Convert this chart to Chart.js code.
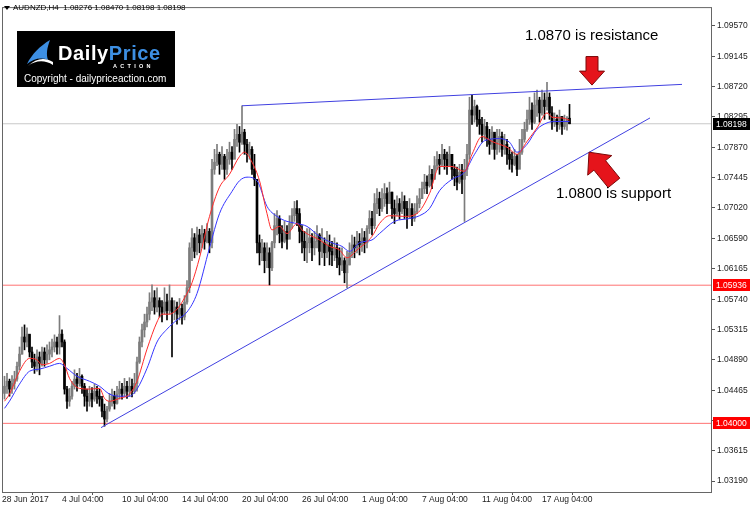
<!DOCTYPE html>
<html>
<head>
<meta charset="utf-8">
<script src="https://cdn.jsdelivr.net/npm/chart.js@4.4.1/dist/chart.umd.min.js"></script>
<style>
  html, body { margin: 0; padding: 0; background: #fff; }
  #wrap { position: relative; width: 750px; height: 508px; overflow: hidden; font-family: "Liberation Sans", Arial, sans-serif; }
  #c { position: absolute; left: 0; top: 0; }
  .tri { position: absolute; left: 4px; top: 6px; width: 0; height: 0; border-left: 3px solid transparent; border-right: 3px solid transparent; border-top: 4px solid #000; }
  .symbol { position: absolute; left: 13px; top: 3px; font-size: 8px; line-height: 10px; color: #000; white-space: pre; }
  .logo { position: absolute; left: 17px; top: 31px; width: 158px; height: 56px; background: #000; }
  .logo svg { position: absolute; left: 8px; top: 8px; }
  .brand { position: absolute; left: 41px; top: 11px; font-size: 20px; line-height: 22px; font-weight: bold; color: #fff; letter-spacing: 0.6px; white-space: nowrap; }
  .brand span { color: #3d8fe3; }
  .action { position: absolute; left: 96px; top: 32px; font-size: 5.5px; line-height: 6px; font-weight: bold; color: #fff; letter-spacing: 3.3px; }
  .copy { position: absolute; left: 7px; top: 42px; font-size: 10px; line-height: 12px; color: #fff; white-space: nowrap; }
  .note { position: absolute; font-size: 15px; line-height: 16px; color: #000; white-space: nowrap; }
</style>
</head>
<body>
<div id="wrap">
  <canvas id="c" width="750" height="508"></canvas>
  <div class="tri"></div>
  <div class="symbol">AUDNZD,H4  1.08276 1.08470 1.08198 1.08198</div>
  <div class="logo">
    <svg width="30" height="28" viewBox="0 0 30 28">
      <path d="M2,25 C7,15 15,7 25,1 C22,9 21,15 23,21 C16,18 8,20 2,25 Z" fill="#3d8fe3"/>
      <path d="M3,27 C11,21 20,21 28,26 L28,23 C20,18 11,19 3,27 Z" fill="#fff"/>
    </svg>
    <div class="brand">Daily<span>Price</span></div>
    <div class="action">ACTION</div>
    <div class="copy">Copyright - dailypriceaction.com</div>
  </div>
  <div class="note" style="left:525px; top:27px;">1.0870 is resistance</div>
  <div class="note" style="left:556px; top:185px;">1.0800 is support</div>
</div>
<script>
// H4 candles, bar 0 = 28 Jun 2017; open of each bar is the previous close
const firstOpen = 1.0442;
const closes = [
  1.0452,1.0459,1.0448,1.0456,1.0462,1.0480,1.0497,1.0521,1.0514,1.0525,
  1.0500,1.0486,1.0480,1.0493,1.0484,1.0500,1.0489,1.0497,1.0503,1.0507,
  1.0514,1.0507,1.0525,1.0514,1.0448,1.0431,1.0438,1.0452,1.0462,1.0456,
  1.0466,1.0452,1.0438,1.0431,1.0442,1.0434,1.0445,1.0438,1.0434,1.0417,
  1.0406,1.0420,1.0431,1.0438,1.0428,1.0441,1.0448,1.0442,1.0452,1.0445,
  1.0452,1.0445,1.0456,1.0486,1.0514,1.0531,1.0542,1.0553,1.0570,1.0576,
  1.0563,1.0572,1.0563,1.0556,1.0570,1.0558,1.0572,1.0556,1.0563,1.0553,
  1.0561,1.0549,1.0570,1.0590,1.0646,1.0660,1.0641,1.0664,1.0653,1.0666,
  1.0655,1.0669,1.0653,1.0756,1.0766,1.0777,1.0763,1.0774,1.0756,1.0770,
  1.0780,1.0770,1.0798,1.0805,1.0794,1.0808,1.0791,1.0777,1.0784,1.0756,
  1.0742,1.0653,1.0639,1.0646,1.0628,1.0639,1.0618,1.0653,1.0677,1.0687,
  1.0666,1.0655,1.0669,1.0658,1.0680,1.0691,1.0701,1.0694,1.0669,1.0655,
  1.0646,1.0653,1.0660,1.0646,1.0655,1.0664,1.0641,1.0653,1.0639,1.0650,
  1.0641,1.0636,1.0646,1.0632,1.0622,1.0628,1.0611,1.0622,1.0639,1.0650,
  1.0646,1.0655,1.0650,1.0660,1.0653,1.0673,1.0687,1.0677,1.0708,1.0715,
  1.0701,1.0715,1.0722,1.0708,1.0724,1.0701,1.0694,1.0708,1.0697,1.0711,
  1.0701,1.0691,1.0701,1.0687,1.0697,1.0708,1.0715,1.0729,1.0738,1.0733,
  1.0749,1.0742,1.0761,1.0770,1.0763,1.0777,1.0770,1.0761,1.0777,1.0756,
  1.0747,1.0738,1.0752,1.0742,1.0756,1.0777,1.0839,1.0832,1.0844,1.0826,
  1.0819,1.0805,1.0816,1.0798,1.0791,1.0808,1.0784,1.0794,1.0802,1.0784,
  1.0791,1.0777,1.0770,1.0763,1.0774,1.0756,1.0780,1.0798,1.0812,1.0826,
  1.0839,1.0822,1.0846,1.0853,1.0835,1.0853,1.0844,1.0857,1.0835,1.0822,
  1.0826,1.0819,1.0830,1.0816,1.0822,1.08276,1.08198
];
const highs = [
  1.0466,1.0470,1.0462,1.0467,1.0473,1.0486,1.0507,1.0535,1.0538,1.0534,
  1.0524,1.0507,1.0497,1.0503,1.0500,1.0507,1.0506,1.0510,1.0514,1.0518,
  1.0524,1.0521,1.0551,1.0531,1.0517,1.0452,1.0449,1.0459,1.0475,1.0470,
  1.0477,1.0468,1.0456,1.0448,1.0452,1.0450,1.0455,1.0452,1.0448,1.0438,
  1.0427,1.0424,1.0442,1.0448,1.0445,1.0452,1.0459,1.0456,1.0463,1.0459,
  1.0464,1.0462,1.0470,1.0493,1.0521,1.0539,1.0553,1.0563,1.0583,1.0594,
  1.0586,1.0590,1.0576,1.0572,1.0590,1.0581,1.0594,1.0576,1.0572,1.0570,
  1.0575,1.0567,1.0579,1.0600,1.0653,1.0673,1.0666,1.0675,1.0672,1.0677,
  1.0672,1.0680,1.0673,1.0770,1.0784,1.0791,1.0780,1.0788,1.0777,1.0784,
  1.0794,1.0788,1.0812,1.0819,1.0816,1.0845,1.0812,1.0798,1.0794,1.0788,
  1.0777,1.0742,1.0664,1.0658,1.0653,1.0653,1.0646,1.0655,1.0694,1.0698,
  1.0691,1.0677,1.0683,1.0677,1.0691,1.0701,1.0711,1.0712,1.0701,1.0677,
  1.0669,1.0673,1.0673,1.0666,1.0669,1.0677,1.0666,1.0673,1.0660,1.0669,
  1.0664,1.0655,1.0660,1.0653,1.0646,1.0646,1.0632,1.0641,1.0653,1.0664,
  1.0661,1.0669,1.0666,1.0673,1.0669,1.0677,1.0698,1.0697,1.0722,1.0729,
  1.0724,1.0729,1.0736,1.0730,1.0738,1.0724,1.0713,1.0719,1.0715,1.0724,
  1.0719,1.0711,1.0715,1.0708,1.0708,1.0719,1.0729,1.0738,1.0749,1.0747,
  1.0761,1.0756,1.0774,1.0781,1.0777,1.0791,1.0784,1.0780,1.0788,1.0777,
  1.0763,1.0759,1.0763,1.0763,1.0770,1.0791,1.0857,1.0860,1.0853,1.0846,
  1.0839,1.0829,1.0826,1.0822,1.0812,1.0816,1.0805,1.0812,1.0812,1.0808,
  1.0805,1.0798,1.0787,1.0780,1.0784,1.0777,1.0798,1.0812,1.0822,1.0839,
  1.0857,1.0849,1.0863,1.0867,1.0857,1.0867,1.0863,1.0878,1.0863,1.0844,
  1.0835,1.0832,1.0839,1.0830,1.0832,1.0830,1.0847
];
const lows = [
  1.0434,1.0442,1.0438,1.0442,1.0448,1.0459,1.0475,1.0497,1.0503,1.0507,
  1.0493,1.0478,1.0470,1.0473,1.0468,1.0480,1.0480,1.0484,1.0489,1.0493,
  1.0500,1.0497,1.0497,1.0507,1.0441,1.0421,1.0424,1.0434,1.0448,1.0445,
  1.0452,1.0442,1.0424,1.0417,1.0424,1.0423,1.0431,1.0428,1.0424,1.0409,
  1.0396,1.0402,1.0417,1.0424,1.0420,1.0427,1.0434,1.0434,1.0438,1.0435,
  1.0438,1.0437,1.0442,1.0445,1.0484,1.0507,1.0521,1.0535,1.0545,1.0558,
  1.0553,1.0556,1.0549,1.0542,1.0553,1.0545,1.0553,1.0493,1.0545,1.0539,
  1.0545,1.0539,1.0545,1.0567,1.0583,1.0628,1.0632,1.0636,1.0639,1.0646,
  1.0644,1.0653,1.0639,1.0646,1.0749,1.0761,1.0749,1.0756,1.0742,1.0749,
  1.0763,1.0756,1.0784,1.0788,1.0780,1.0791,1.0777,1.0766,1.0770,1.0749,
  1.0733,1.0639,1.0622,1.0628,1.0611,1.0618,1.0594,1.0614,1.0646,1.0664,
  1.0653,1.0646,1.0653,1.0644,1.0664,1.0673,1.0683,1.0677,1.0653,1.0639,
  1.0628,1.0625,1.0639,1.0628,1.0636,1.0646,1.0622,1.0632,1.0621,1.0632,
  1.0622,1.0621,1.0628,1.0618,1.0608,1.0614,1.0597,1.0590,1.0622,1.0632,
  1.0632,1.0639,1.0636,1.0641,1.0639,1.0646,1.0666,1.0664,1.0673,1.0694,
  1.0691,1.0697,1.0704,1.0694,1.0708,1.0687,1.0680,1.0691,1.0686,1.0694,
  1.0687,1.0673,1.0687,1.0677,1.0683,1.0694,1.0702,1.0715,1.0722,1.0722,
  1.0731,1.0729,1.0742,1.0756,1.0749,1.0761,1.0756,1.0749,1.0763,1.0742,
  1.0733,1.0727,1.0736,1.0722,1.0683,1.0747,1.0770,1.0819,1.0822,1.0816,
  1.0805,1.0794,1.0798,1.0788,1.0777,1.0784,1.0770,1.0777,1.0780,1.0774,
  1.0777,1.0763,1.0756,1.0752,1.0761,1.0747,1.0763,1.0777,1.0794,1.0809,
  1.0819,1.0812,1.0820,1.0830,1.0822,1.0832,1.0826,1.0839,1.0826,1.0812,
  1.0816,1.0809,1.0812,1.0805,1.0812,1.0811,1.08198
];

// moving averages (bar index / price)
const emaFastBars = [0,2,6,10,13,15,18,22,24,26,30,34,38,40,42,46,50,53,57,61,63,66,69,73,75,78,82,86,90,94,96,99,102,105,107,110,113,117,119,126,130,134,137,141,147,150,154,160,165,170,174,179,184,187,191,195,198,201,205,209,213,217,219,223,226];
const emaFast = [1.0431,1.0441,1.0473,1.0491,1.0489,1.0482,1.0484,1.0491,1.0482,1.0463,1.0449,1.0448,1.0449,1.0435,1.0431,1.0435,1.0441,1.0459,1.0504,1.0542,1.0553,1.0553,1.0560,1.0582,1.0597,1.0632,1.0690,1.0731,1.0749,1.0774,1.0780,1.0766,1.0740,1.0694,1.0671,1.0676,1.0666,1.0680,1.0671,1.0657,1.0648,1.0643,1.0632,1.0643,1.0662,1.0680,1.0691,1.0690,1.0694,1.0722,1.0760,1.0760,1.0753,1.0777,1.0802,1.0795,1.0791,1.0787,1.0777,1.0795,1.0814,1.0835,1.0829,1.0828,1.0825];
const emaSlowBars = [0,2,6,10,14,18,22,25,29,34,38,42,46,50,53,57,61,65,69,73,77,82,86,91,94,97,101,105,109,113,117,121,126,131,135,138,142,147,150,156,162,166,170,174,179,184,188,192,198,202,205,209,213,217,220,226];
const emaSlow = [1.0421,1.0431,1.0455,1.0473,1.0476,1.0480,1.0484,1.0477,1.0466,1.0459,1.0452,1.0441,1.0438,1.0438,1.0448,1.0477,1.0514,1.0532,1.0545,1.0556,1.0582,1.0646,1.0694,1.0725,1.0740,1.0745,1.0740,1.0704,1.0690,1.0683,1.0680,1.0676,1.0662,1.0653,1.0648,1.0641,1.0653,1.0657,1.0666,1.0683,1.0687,1.0691,1.0701,1.0726,1.0742,1.0752,1.0777,1.0796,1.0799,1.0794,1.0780,1.0791,1.0812,1.0821,1.0823,1.0823];

// trend lines (bar index / price at each end)
const supportBars = [38.6, 258.2];
const supportPrices = [1.0394, 1.0828];
const resistBars = [95, 271];
const resistPrices = [1.0845, 1.0875];

// horizontal levels
const levelPrices = [1.08198, 1.05936, 1.04000];
const levelLineColors = ['#c8c8c8', '#ff7272', '#ff7272'];
const levelBoxColors = ['#000000', '#ff0000', '#ff0000'];

// axes
const timeTickBars = [-1, 23, 47, 71, 95, 119, 143, 167, 191, 215];
const timeLabels = ['28 Jun 2017', '4 Jul 04:00', '10 Jul 04:00', '14 Jul 04:00', '20 Jul 04:00', '26 Jul 04:00', '1 Aug 04:00', '7 Aug 04:00', '11 Aug 04:00', '17 Aug 04:00'];
const priceTicks = [1.09570,1.09145,1.08720,1.08295,1.07870,1.07445,1.07020,1.06590,1.06165,1.05740,1.05315,1.04890,1.04465,1.04040,1.03615,1.03190];

// red arrows: tip and tail in bar / price
const arrowTips = [[235, 1.0874], [233.8, 1.0780]];
const arrowTails = [[235, 1.0914], [243.8, 1.0737]];
const arrowShapes = [[14, 12.5, 6], [17, 15.5, 7.5]]; // head length, head half width, shaft half width

const opens = closes.map((c, i) => i === 0 ? firstOpen : closes[i - 1]);
const upColor = '#7c7c7c';
const downColor = '#000000';
const candleColors = closes.map((c, i) => c >= opens[i] ? upColor : downColor);

function xy(bars, vals) {
  return bars.map((b, i) => ({ x: b, y: vals[i] }));
}

function drawArrow(ctx, tx, ty, fx, fy, headLen, headHalf, shaftHalf) {
  const dx = tx - fx, dy = ty - fy;
  const len = Math.hypot(dx, dy);
  const ux = dx / len, uy = dy / len;
  const nx = -uy, ny = ux;
  const bx = tx - ux * headLen, by = ty - uy * headLen;
  ctx.beginPath();
  ctx.moveTo(fx + nx * shaftHalf, fy + ny * shaftHalf);
  ctx.lineTo(bx + nx * shaftHalf, by + ny * shaftHalf);
  ctx.lineTo(bx + nx * headHalf, by + ny * headHalf);
  ctx.lineTo(tx, ty);
  ctx.lineTo(bx - nx * headHalf, by - ny * headHalf);
  ctx.lineTo(bx - nx * shaftHalf, by - ny * shaftHalf);
  ctx.lineTo(fx - nx * shaftHalf, fy - ny * shaftHalf);
  ctx.closePath();
  ctx.fillStyle = '#e5141b';
  ctx.fill();
  ctx.lineWidth = 1;
  ctx.strokeStyle = '#7a0808';
  ctx.stroke();
}

const decor = {
  id: 'decor',
  afterDatasetsDraw(chart) {
    const { ctx, scales: { x, y } } = chart;
    ctx.save();
    arrowTips.forEach((tip, i) => {
      const s = arrowShapes[i];
      drawArrow(ctx,
        x.getPixelForValue(tip[0]), y.getPixelForValue(tip[1]),
        x.getPixelForValue(arrowTails[i][0]), y.getPixelForValue(arrowTails[i][1]),
        s[0], s[1], s[2]);
    });
    ctx.restore();
  },
  afterDraw(chart) {
    const { ctx, chartArea: a, scales: { y } } = chart;
    ctx.save();
    ctx.strokeStyle = '#666';
    ctx.lineWidth = 1;
    ctx.strokeRect(a.left + 0.5, a.top + 0.5, a.right - a.left - 1, a.bottom - a.top);
    // price labels on the axis
    ctx.font = '8.5px "Liberation Sans", Arial, sans-serif';
    ctx.textBaseline = 'middle';
    levelPrices.forEach((p, i) => {
      const py = Math.round(y.getPixelForValue(p));
      ctx.fillStyle = levelBoxColors[i];
      ctx.fillRect(a.right + 1, py - 6, 37, 12);
      ctx.fillStyle = '#fff';
      ctx.fillText(p.toFixed(5), a.right + 4, py + 0.5);
    });
    ctx.restore();
  }
};

Chart.defaults.font.family = '"Liberation Sans", Arial, sans-serif';
Chart.defaults.font.size = 8.5;
Chart.defaults.color = '#222';

const datasets = [
  { type: 'line', data: xy(emaFastBars, emaFast), borderColor: '#ff2a2a', borderWidth: 1, pointRadius: 0, cubicInterpolationMode: 'monotone', order: 1 },
  { type: 'line', data: xy(emaSlowBars, emaSlow), borderColor: '#3535ff', borderWidth: 1, pointRadius: 0, cubicInterpolationMode: 'monotone', order: 1 },
  { type: 'line', data: xy(supportBars, supportPrices), borderColor: '#4040e0', borderWidth: 1, pointRadius: 0, order: 1 },
  { type: 'line', data: xy(resistBars, resistPrices), borderColor: '#4040e0', borderWidth: 1, pointRadius: 0, order: 1 },
  { type: 'bar', data: closes.map((c, i) => ({ x: i, y: [opens[i], c] })), backgroundColor: candleColors, barThickness: 2, minBarLength: 1, grouped: false, order: 3 },
  { type: 'bar', data: closes.map((c, i) => ({ x: i, y: [lows[i], highs[i]] })), backgroundColor: candleColors, barThickness: 1, grouped: false, order: 4 }
];
levelPrices.forEach((p, i) => {
  datasets.push({ type: 'line', data: xy([-1, 283], [p, p]), borderColor: levelLineColors[i], borderWidth: 1, pointRadius: 0, order: 5 });
});

new Chart(document.getElementById('c'), {
  type: 'bar',
  data: { datasets: datasets },
  options: {
    responsive: false,
    animation: false,
    events: [],
    layout: { padding: { left: 2, top: 1, right: 0, bottom: 0 } },
    plugins: { legend: { display: false }, tooltip: { enabled: false } },
    scales: {
      x: {
        type: 'linear',
        min: -1,
        max: 283,
        offset: false,
        border: { display: false },
        grid: { display: true, drawOnChartArea: false, drawTicks: true, tickLength: 3, color: '#555' },
        ticks: {
          autoSkip: false, maxRotation: 0, align: 'start', padding: 0,
          callback: (v, i) => timeLabels[i]
        },
        afterBuildTicks: s => { s.ticks = timeTickBars.map(v => ({ value: v })); },
        afterFit: s => { s.height = 16; }
      },
      y: {
        type: 'linear',
        position: 'right',
        min: 1.03038,
        max: 1.09833,
        border: { display: false },
        grid: { display: true, drawOnChartArea: false, drawTicks: true, tickLength: 3, color: '#555' },
        ticks: {
          autoSkip: false, padding: 2,
          callback: v => v.toFixed(5)
        },
        afterBuildTicks: s => { s.ticks = priceTicks.map(v => ({ value: v })); },
        afterFit: s => { s.width = 38; }
      }
    }
  },
  plugins: [decor]
});
</script>
</body>
</html>
